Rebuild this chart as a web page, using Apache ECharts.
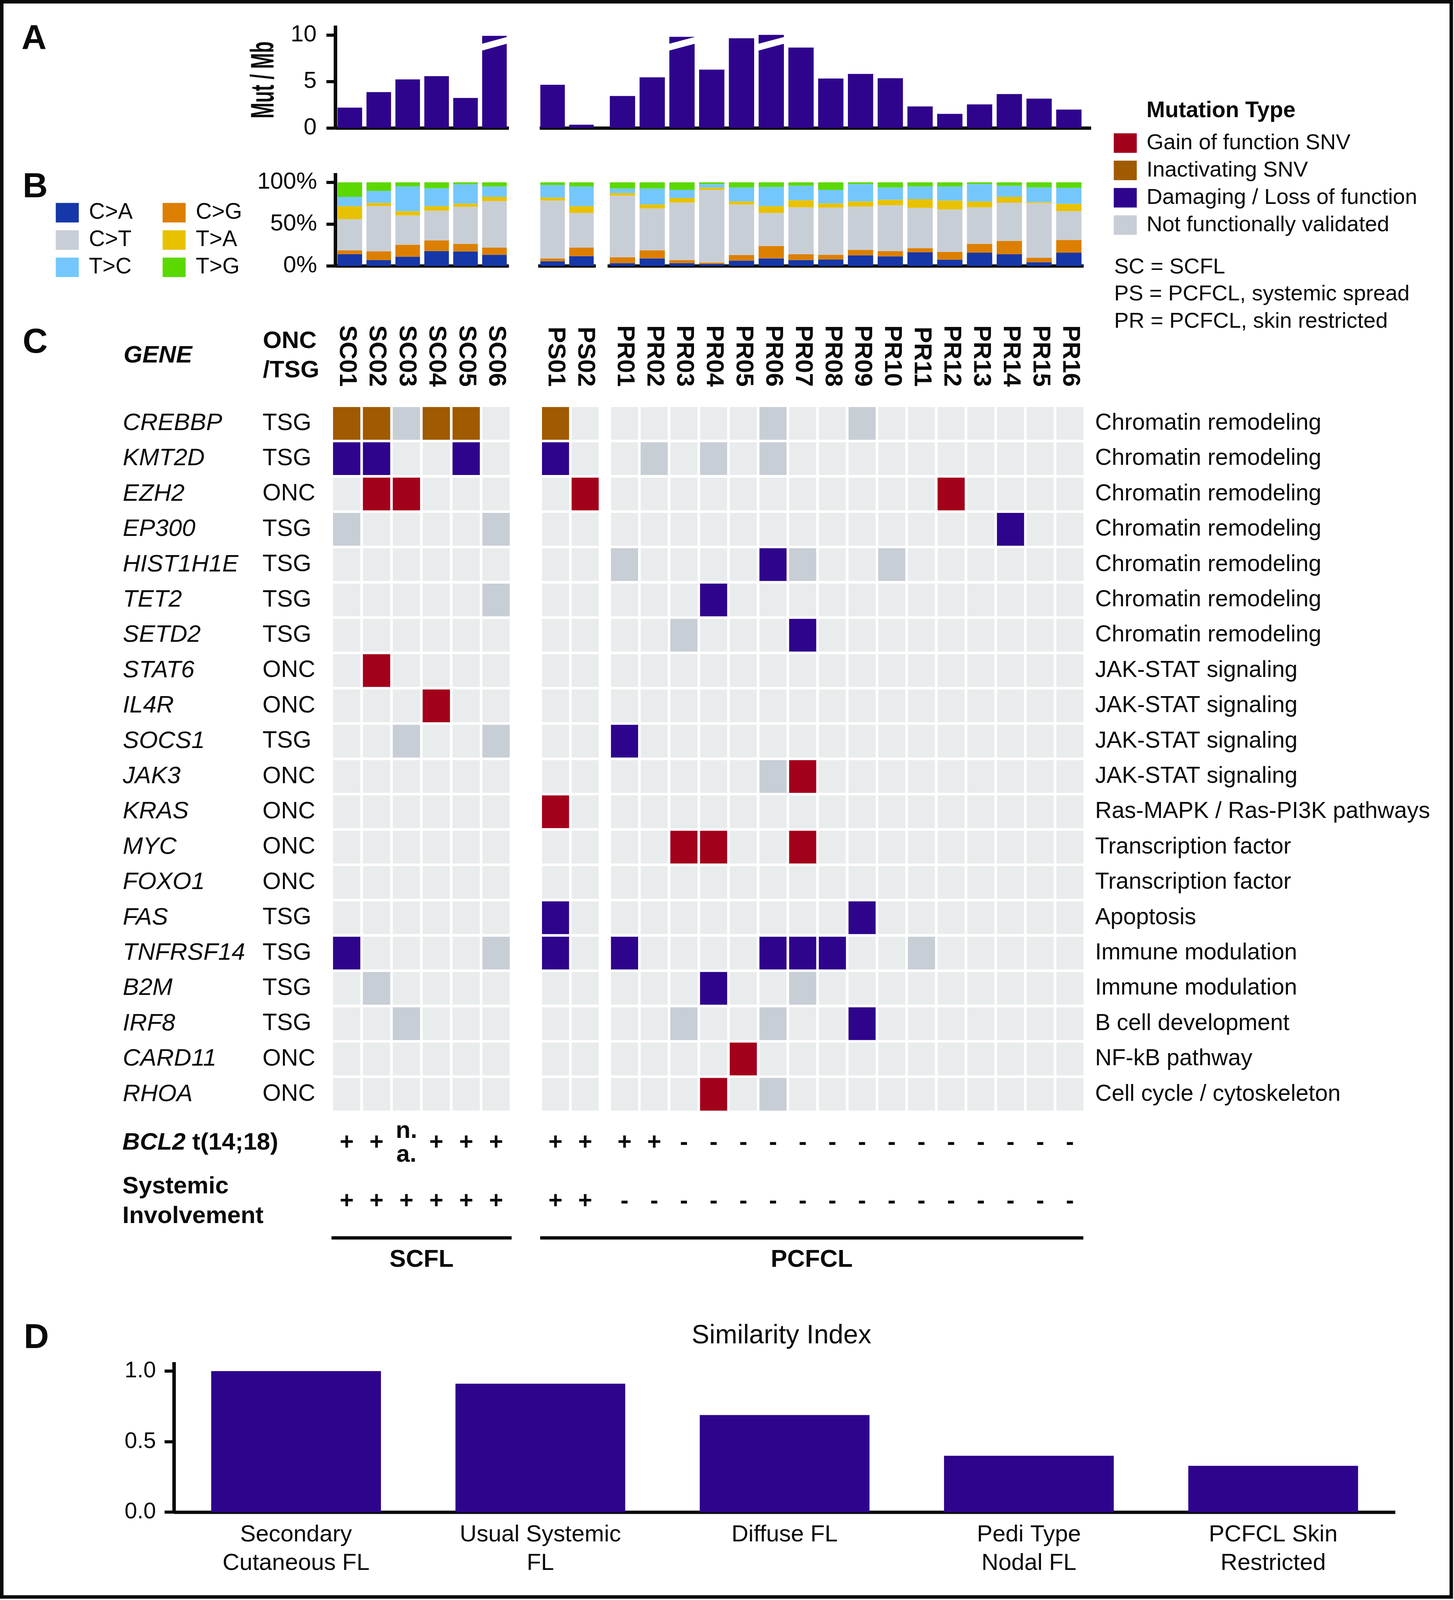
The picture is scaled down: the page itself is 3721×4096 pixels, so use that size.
<!DOCTYPE html>
<html>
<head>
<meta charset="utf-8">
<style>html,body{margin:0;padding:0;background:#fff}#chart{width:3721px;height:4096px}</style>
<script src="https://cdn.jsdelivr.net/npm/echarts@6/dist/echarts.min.js"></script>
</head>
<body>
<div id="chart"></div>
<script>
// ---------------- DATA ----------------
const samplesSC = ['SC01','SC02','SC03','SC04','SC05','SC06'];
const samplesPS = ['PS01','PS02'];
const samplesPR = ['PR01','PR02','PR03','PR04','PR05','PR06','PR07','PR08','PR09','PR10','PR11','PR12','PR13','PR14','PR15','PR16'];
const allSamples = samplesSC.concat(samplesPS, samplesPR);

// Panel A: mutational burden (Mut / Mb); SC06, PR03, PR06 are drawn broken (axis break)
const mutPerMb = [2.18,3.85,5.21,5.56,3.22,9.9, 4.64,0.34, 3.43,5.44,9.8,6.26,9.64,10.0,8.64,5.31,5.80,5.34,2.30,1.51,2.53,3.64,3.14,1.97];
const axisBreakSamples = ['SC06','PR03','PR06'];
const mutPerMbTicks = [0,5,10];

// Panel B: mutation spectrum (%)
const spectrumTypes = ['C>A','C>G','C>T','T>A','T>C','T>G'];
const pctCA = [13.8,6.8,10.9,17.7,17.2,13.3, 5.5,11.6, 3.3,9.0,3.3,2.2,6.3,9.0,7.0,7.6,12.7,11.4,16.2,7.4,15.7,13.8,4.4,15.7];
const pctCG = [4.8,10.7,14.4,12.9,9.2,8.5, 3.5,10.2, 7.0,9.6,3.7,1.7,6.6,14.8,6.8,5.7,6.5,6.3,5.0,9.2,10.7,16.1,5.4,15.3];
const pctCT = [37.3,54.1,35.0,35.3,44.3,55.7, 69.2,41.5, 73.8,50.2,68.8,87.1,60.5,39.5,56.3,56.4,51.8,54.8,48.2,50.9,43.7,45.6,65.5,34.5];
const pctTA = [15.5,3.7,5.2,5.5,3.8,5.0, 3.5,8.1, 3.0,4.8,5.4,2.7,3.7,8.1,8.5,5.0,6.1,6.5,10.3,10.7,7.0,7.0,1.3,8.7];
const pctTC = [11.1,14.4,29.5,21.6,23.1,12.5, 15.0,23.6, 5.5,19.0,9.8,4.1,16.8,23.1,17.3,16.3,20.7,14.9,15.3,16.8,20.7,13.4,17.3,19.2];
const pctTG = [17.5,10.3,5.0,7.0,2.4,5.0, 3.3,5.0, 7.4,7.4,9.0,2.2,6.1,5.5,4.1,9.0,2.2,6.1,5.0,5.0,2.2,4.1,6.1,6.6];
const pctTicks = [0,50,100];

// Panel C: genes
const genes = ['CREBBP','KMT2D','EZH2','EP300','HIST1H1E','TET2','SETD2','STAT6','IL4R','SOCS1','JAK3','KRAS','MYC','FOXO1','FAS','TNFRSF14','B2M','IRF8','CARD11','RHOA'];
const geneRoles = ['TSG','TSG','ONC','TSG','TSG','TSG','TSG','ONC','ONC','TSG','ONC','ONC','ONC','ONC','TSG','TSG','TSG','TSG','ONC','ONC'];
const pathways = ['Chromatin remodeling','Chromatin remodeling','Chromatin remodeling','Chromatin remodeling','Chromatin remodeling','Chromatin remodeling','Chromatin remodeling','JAK-STAT signaling','JAK-STAT signaling','JAK-STAT signaling','JAK-STAT signaling','Ras-MAPK / Ras-PI3K pathways','Transcription factor','Transcription factor','Apoptosis','Immune modulation','Immune modulation','B cell development','NF-kB pathway','Cell cycle / cytoskeleton'];
const mutationTypes = ['Gain of function SNV','Inactivating SNV','Damaging / Loss of function','Not functionally validated'];
const mutGain = [['EZH2','SC02'],['EZH2','SC03'],['EZH2','PS02'],['EZH2','PR12'],['STAT6','SC02'],['IL4R','SC04'],['JAK3','PR07'],['KRAS','PS01'],['MYC','PR03'],['MYC','PR04'],['MYC','PR07'],['CARD11','PR05'],['RHOA','PR04']];
const mutInactivating = [['CREBBP','SC01'],['CREBBP','SC02'],['CREBBP','SC04'],['CREBBP','SC05'],['CREBBP','PS01']];
const mutDamaging = [['KMT2D','SC01'],['KMT2D','SC02'],['KMT2D','SC05'],['KMT2D','PS01'],['EP300','PR14'],['HIST1H1E','PR06'],['TET2','PR04'],['SETD2','PR07'],['SOCS1','PR01'],['FAS','PS01'],['FAS','PR09'],['TNFRSF14','SC01'],['TNFRSF14','PS01'],['TNFRSF14','PR01'],['TNFRSF14','PR06'],['TNFRSF14','PR07'],['TNFRSF14','PR08'],['B2M','PR04'],['IRF8','PR09']];
const mutNotValidated = [['CREBBP','SC03'],['CREBBP','PR06'],['CREBBP','PR09'],['KMT2D','PR02'],['KMT2D','PR04'],['KMT2D','PR06'],['EP300','SC01'],['EP300','SC06'],['HIST1H1E','PR01'],['HIST1H1E','PR07'],['HIST1H1E','PR10'],['TET2','SC06'],['SETD2','PR03'],['SOCS1','SC03'],['SOCS1','SC06'],['JAK3','PR06'],['TNFRSF14','SC06'],['TNFRSF14','PR11'],['B2M','SC02'],['B2M','PR07'],['IRF8','SC03'],['IRF8','PR03'],['IRF8','PR06'],['RHOA','PR06']];
const annotationRows = ['BCL2 t(14;18)','Systemic Involvement'];
const bcl2Status = ['+','+','n.\na.','+','+','+', '+','+', '+','+','-','-','-','-','-','-','-','-','-','-','-','-','-','-'];
const systemicStatus = ['+','+','+','+','+','+', '+','+', '-','-','-','-','-','-','-','-','-','-','-','-','-','-','-','-'];
const groupLabels = ['SCFL','PCFCL'];

// Panel D
const simCategories = ['Secondary\nCutaneous FL','Usual Systemic\nFL','Diffuse FL','Pedi Type\nNodal FL','PCFCL Skin\nRestricted'];
const simValues = [1.0,0.911,0.689,0.400,0.329];
const simTicks = [0,0.5,1.0];

// ---------------- STYLE / LAYOUT ----------------
const K = 0.998;
const s = v => v * K;
const FONT = '"Liberation Sans", Arial, Helvetica, sans-serif';
const BLACK = '#0a0a0a';
const PURPLE = '#2e048c';
const mutColors = ['#a3001b','#a05a00','#2e048c','#c8ced6'];
const specColors = ['#1537a8','#dc7f00','#c8ced6','#e8c200','#74c7fc','#5bd800'];
const CELL_BG = '#e9eced';
const pctArrays = [pctCA,pctCG,pctCT,pctTA,pctTC,pctTG];
const mutArrays = [mutGain,mutInactivating,mutDamaging,mutNotValidated];

const groupDefs = [
  {key:'SC', samples:samplesSC, ab:[860,1305], c:[850.7,1310.3]},
  {key:'PS', samples:samplesPS, ab:[1380,1528], c:[1386.5,1538.5]},
  {key:'PR', samples:samplesPR, ab:[1558,2779], c:[1563.4,2781.6]}
];
const vals = (arr, g) => g.samples.map(n => arr[allSamples.indexOf(n)]);

const grids = [], xAxes = [], yAxes = [], series = [];
function addGrid(x0, x1, y0, y1, xa, ya) {
  const gi = grids.length;
  grids.push({left:s(x0), top:s(y0), width:s(x1-x0), height:s(y1-y0), containLabel:false, outerBoundsMode:'none'});
  xAxes.push(Object.assign({gridIndex:gi}, xa));
  yAxes.push(Object.assign({gridIndex:gi}, ya));
  return gi;
}
const line = w => ({show:true, onZero:false, lineStyle:{color:BLACK, width:s(w), cap:'butt'}});
const hidden = {show:false};
const lbl = (o) => Object.assign({show:true, color:BLACK, fontFamily:FONT}, o);

function breakItem(params, api) {
  const i = api.value(0);
  const half = api.size([1,0])[0] * 0.85 / 2 + s(2);
  const x = api.coord([i,0])[0];
  const y = v => api.coord([i, v])[1];
  return {type:'polygon', shape:{points:[[x-half,y(8.29)],[x+half,y(9.07)],[x+half,y(9.79)],[x-half,y(9.03)]]}, style:{fill:'#ffffff'}};
}
function cellItem(params, api) {
  const c = api.coord([api.value(0), api.value(1)]);
  const sz = api.size([1,1]);
  const w = sz[0] - s(6.6), h = sz[1] - s(6.6);
  return {type:'rect', shape:{x:c[0]-w/2, y:c[1]-h/2, width:w, height:h}, style:{fill: api.visual('color')}};
}
function textRender(texts) {
  return function(params, api) {
    const c = api.coord([api.value(0), api.value(1)]);
    return {type:'text', x:c[0], y:c[1], style:{text:texts[params.dataIndex], fontSize:s(62), fontWeight:'bold', fontFamily:FONT, fill:BLACK, align:'center', verticalAlign:'middle', lineHeight:s(61)}};
  };
}

// ----- Panel A -----
groupDefs.forEach(g => {
  const isSC = g.key === 'SC';
  const gi = addGrid(g.ab[0], g.ab[1], 65.7, 328,
    {type:'category', data:g.samples, axisLine: isSC ? line(8.5) : hidden, axisTick:hidden, axisLabel:hidden},
    {type:'value', min:0, max:11, show:isSC, axisLine:line(9),
     axisTick:{show:true, length:s(23), customValues:mutPerMbTicks, lineStyle:{color:BLACK, width:s(8)}},
     axisLabel:lbl({customValues:mutPerMbTicks, fontSize:s(60), margin:s(48)}), splitLine:hidden});
  series.push({type:'bar', name:'Mut / Mb', xAxisIndex:gi, yAxisIndex:gi, data:vals(mutPerMb, g), barWidth:'85%', itemStyle:{color:PURPLE}, silent:true, z:2});
  const br = [];
  g.samples.forEach((n, i) => { if (axisBreakSamples.includes(n)) br.push([i]); });
  if (br.length) series.push({type:'custom', xAxisIndex:gi, yAxisIndex:gi, data:br, renderItem:breakItem, silent:true, z:5});
});
// continuous baseline under PS + PR in panel A
addGrid(1384, 2798, 65.7, 328,
  {type:'category', data:[''], axisLine:line(8.5), axisTick:hidden, axisLabel:hidden},
  {type:'value', min:0, max:1, show:false, splitLine:hidden});

// ----- Panel B -----
groupDefs.forEach(g => {
  const isSC = g.key === 'SC';
  const gi = addGrid(g.ab[0], g.ab[1], 444, 682,
    {type:'category', data:g.samples, axisLine:line(8.5), axisTick:hidden, axisLabel:hidden},
    {type:'value', min:0, max:111, show:isSC, axisLine:line(9),
     axisTick:{show:true, length:s(23), customValues:pctTicks, lineStyle:{color:BLACK, width:s(8)}},
     axisLabel:lbl({customValues:pctTicks, formatter:'{value}%', fontSize:s(60), margin:s(47)}), splitLine:hidden});
  spectrumTypes.forEach((t, k) => {
    series.push({type:'bar', name:t, stack:'spec'+g.key, xAxisIndex:gi, yAxisIndex:gi, data:vals(pctArrays[k], g), barWidth:'85%', itemStyle:{color:specColors[k]}, silent:true});
  });
});

// ----- Panel C: oncoprint -----
groupDefs.forEach(g => {
  let yLabel;
  if (g.key === 'SC') {
    yLabel = lbl({interval:0, align:'left', margin:s(850.7-315),
      formatter: v => '{g|' + v + '}{t|' + geneRoles[genes.indexOf(v)] + '}',
      rich:{g:{fontStyle:'italic', fontSize:s(62), width:s(358), fontFamily:FONT, color:BLACK}, t:{fontSize:s(61), fontFamily:FONT, color:BLACK}}});
  } else if (g.key === 'PR') {
    yLabel = lbl({interval:0, margin:s(26.4), fontSize:s(59), formatter: v => pathways[genes.indexOf(v)]});
  } else {
    yLabel = hidden;
  }
  const gi = addGrid(g.c[0], g.c[1], 1040.7, 2852.3,
    {type:'category', data:g.samples, position:'top', axisLine:hidden, axisTick:hidden,
     axisLabel:lbl({interval:0, rotate:90, fontSize:s(63), fontWeight:'bold', margin:s(48.7)})},
    {type:'category', data:genes, inverse:true, position: g.key === 'PR' ? 'right' : 'left', axisLine:hidden, axisTick:hidden, axisLabel:yLabel});
  const bg = [];
  g.samples.forEach((n, i) => genes.forEach((ge, j) => bg.push([i, j])));
  series.push({type:'custom', name:'bg', xAxisIndex:gi, yAxisIndex:gi, data:bg, renderItem:cellItem, itemStyle:{color:CELL_BG}, silent:true, z:1});
  mutationTypes.forEach((mt, k) => {
    const d = mutArrays[k].filter(p => g.samples.includes(p[1])).map(p => [g.samples.indexOf(p[1]), genes.indexOf(p[0])]);
    series.push({type:'custom', name:mt, xAxisIndex:gi, yAxisIndex:gi, data:d, renderItem:cellItem, itemStyle:{color:mutColors[k]}, silent:true, z:2});
  });
  // annotation rows (BCL2 / systemic)
  let aLabel = hidden;
  if (g.key === 'SC') {
    aLabel = lbl({interval:0, align:'left', margin:s(850.7-314),
      formatter: v => {
        if (v === annotationRows[0]) { const sp = v.indexOf(' '); return '{bi|' + v.slice(0, sp) + '}{b|' + v.slice(sp) + '}'; }
        return v.split(' ').map(w => '{b|' + w + '}').join('\n');
      },
      rich:{bi:{fontStyle:'italic', fontWeight:'bold', fontSize:s(62), lineHeight:s(76), fontFamily:FONT, color:BLACK},
            b:{fontWeight:'bold', fontSize:s(62), lineHeight:s(76), fontFamily:FONT, color:BLACK}}});
  }
  const ai = addGrid(g.c[0], g.c[1], 2857, 3157,
    {type:'category', data:g.samples, show:false},
    {type:'category', data:annotationRows, inverse:true, axisLine:hidden, axisTick:hidden, axisLabel:aLabel});
  const ad = [], at = [];
  g.samples.forEach((n, i) => {
    const idx = allSamples.indexOf(n);
    ad.push([i, 0]); at.push(bcl2Status[idx]);
    ad.push([i, 1]); at.push(systemicStatus[idx]);
  });
  series.push({type:'custom', xAxisIndex:ai, yAxisIndex:ai, data:ad, renderItem:textRender(at), silent:true});
});

// group lines
[[850, 1312, groupLabels[0]], [1385, 2778, groupLabels[1]]].forEach(gl => {
  addGrid(gl[0], gl[1], 3171, 3175,
    {type:'category', data:[gl[2]], axisLine:line(8.5), axisTick:hidden, axisLabel:lbl({fontSize:s(63), fontWeight:'bold', lineHeight:s(63), margin:s(26)})},
    {type:'value', min:0, max:1, show:false, splitLine:hidden});
});

// ----- Panel D -----
const di = addGrid(446, 3578, 3494, 3879,
  {type:'category', data:simCategories, axisLine:line(8.7), axisTick:hidden, axisLabel:lbl({interval:0, fontSize:s(60), lineHeight:s(74), margin:s(21)})},
  {type:'value', min:0, max:1.064, axisLine:line(9),
   axisTick:{show:true, length:s(24), customValues:simTicks, lineStyle:{color:BLACK, width:s(8)}},
   axisLabel:lbl({customValues:simTicks, formatter: v => v.toFixed(1), fontSize:s(58), margin:s(46)}), splitLine:hidden});
series.push({type:'bar', name:'Similarity Index', xAxisIndex:di, yAxisIndex:di, data:simValues, barWidth:'69.5%', itemStyle:{color:PURPLE}, silent:true});

// ---------------- GRAPHICS (text annotations) ----------------
function gtext(x, y, text, size, extra) {
  return Object.assign({type:'text', x:s(x), y:s(y), silent:true,
    style:Object.assign({text:text, fill:BLACK, fontFamily:FONT, fontSize:s(size), align:'left', verticalAlign:'middle'}, (extra && extra.style) || {})},
    (extra && extra.el) || {});
}
const graphics = [
  gtext(55, 102, 'A', 89, {style:{fontWeight:'bold'}}),
  gtext(58, 481, 'B', 89, {style:{fontWeight:'bold'}}),
  gtext(58, 880, 'C', 89, {style:{fontWeight:'bold'}}),
  gtext(61, 3433, 'D', 89, {style:{fontWeight:'bold'}}),
  gtext(678.5, 205, 'Mut / Mb', 84, {style:{fontWeight:'bold', align:'center'}, el:{rotation:Math.PI/2, scaleX:0.58}}),
  gtext(2940, 284.5, 'Mutation Type', 57, {style:{fontWeight:'bold'}}),
  gtext(2857, 686, 'SC = SCFL', 56),
  gtext(2857, 755, 'PS = PCFCL, systemic spread', 56),
  gtext(2857, 825, 'PR = PCFCL, skin restricted', 56),
  gtext(317, 913, 'GENE', 62, {style:{fontWeight:'bold', fontStyle:'italic'}}),
  gtext(674, 876, 'ONC', 62, {style:{fontWeight:'bold'}}),
  gtext(674, 951, '/TSG', 62, {style:{fontWeight:'bold'}}),
  gtext(2004, 3427, 'Similarity Index', 68, {style:{align:'center'}}),
  {type:'rect', silent:true, z:100, shape:{x:s(4.5), y:s(4.5), width:s(3726-9), height:s(4101-9)}, style:{fill:'none', stroke:BLACK, lineWidth:s(9)}}
];

const legendBase = {orient:'vertical', icon:'rect', itemWidth:s(59), itemHeight:s(50), itemGap:s(14), padding:0, selectedMode:false,
  textStyle:{fontFamily:FONT, color:BLACK, fontSize:s(56), padding:[0,0,0,s(20)]}};
const legends = [
  Object.assign({}, legendBase, {data:mutationTypes, left:s(2856), top:s(339)}),
  Object.assign({}, legendBase, {data:[spectrumTypes[0],spectrumTypes[2],spectrumTypes[4]], left:s(143), top:s(517), itemGap:s(13),
    textStyle:Object.assign({}, legendBase.textStyle, {fontSize:s(57), padding:[0,0,0,s(21)]})}),
  Object.assign({}, legendBase, {data:[spectrumTypes[1],spectrumTypes[3],spectrumTypes[5]], left:s(417), top:s(517), itemGap:s(13),
    textStyle:Object.assign({}, legendBase.textStyle, {fontSize:s(57), padding:[0,0,0,s(21)]})})
];

const chart = echarts.init(document.getElementById('chart'), null, {renderer:'canvas'});
chart.setOption({
  animation:false,
  backgroundColor:'#ffffff',
  textStyle:{fontFamily:FONT, color:BLACK},
  grid:grids, xAxis:xAxes, yAxis:yAxes, series:series,
  legend:legends, graphic:graphics
});
</script>
</body>
</html>
